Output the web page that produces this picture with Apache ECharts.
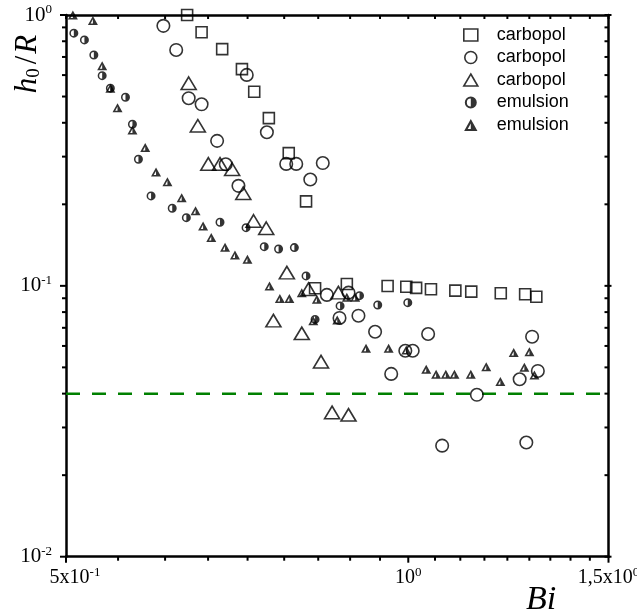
<!DOCTYPE html>
<html><head><meta charset="utf-8">
<script src="https://cdn.jsdelivr.net/npm/echarts@6/dist/echarts.min.js"></script>
<style>html,body{margin:0;padding:0;background:#fff;overflow:hidden}#c{width:637px;height:614px}</style>
</head><body><div id="c"></div>
<script>
// ---- data (Bi, h0/R) ----
const sqBi = [0.639,0.658,0.686,0.714,0.732,0.754,0.785,0.813,0.828,0.883,0.959,0.996,1.016,1.047,1.100,1.136,1.206,1.267,1.296];
const sqH  = [1.0,0.864,0.748,0.631,0.521,0.416,0.309,0.205,0.098,0.1016,0.0999,0.0993,0.0983,0.0972,0.0960,0.0952,0.0939,0.0931,0.0912];

const circBi = [0.609,0.625,0.641,0.658,0.679,0.721,0.751,0.691,0.709,0.781,0.797,0.820,0.841,0.848,0.886,0.870,0.904,0.935,0.994,1.009,1.041,0.966,1.149,1.071,1.270,1.253,1.300,1.285];
const circH  = [0.912,0.743,0.493,0.468,0.343,0.601,0.369,0.281,0.234,0.282,0.282,0.247,0.284,0.0926,0.0944,0.0761,0.0776,0.0677,0.0576,0.0576,0.0664,0.0473,0.0396,0.0257,0.0264,0.0452,0.0485,0.0649];

const triBi = [0.641,0.653,0.667,0.683,0.700,0.716,0.731,0.750,0.782,0.817,0.868,0.761,0.806,0.838,0.857,0.886];
const triH  = [0.560,0.390,0.282,0.282,0.2695,0.2198,0.1736,0.1632,0.1119,0.0972,0.0944,0.0744,0.0668,0.0525,0.0341,0.0334];

const emCircBi = [0.508,0.519,0.529,0.538,0.547,0.564,0.572,0.579,0.594,0.620,0.638,0.683,0.720,0.747,0.769,0.794,0.813,0.828,0.871,0.906,0.940,0.999];
const emCircH  = [0.857,0.809,0.712,0.597,0.537,0.497,0.395,0.2934,0.2148,0.1934,0.1786,0.1717,0.1640,0.1395,0.1368,0.1384,0.1088,0.0752,0.0843,0.0920,0.0850,0.0867];

const emTriBi = [0.507,0.528,0.538,0.547,0.555,0.572,0.587,0.600,0.614,0.632,0.650,0.660,0.671,0.690,0.704,0.722,0.755,0.771,0.786,0.806,0.831,0.825,0.866,0.883,0.898,0.918,0.961,0.996,1.037,1.058,1.079,1.098,1.135,1.171,1.205,1.238,1.278,1.265,1.291];
const emTriH  = [1.0,0.955,0.650,0.537,0.455,0.376,0.324,0.263,0.2425,0.2117,0.1895,0.1664,0.1507,0.1389,0.1301,0.1254,0.0999,0.0898,0.0898,0.0944,0.0892,0.0744,0.0748,0.0908,0.0908,0.0588,0.0588,0.0580,0.0492,0.0472,0.0472,0.0472,0.0472,0.0503,0.0443,0.0567,0.0571,0.0501,0.0469];

const seriesNames = ['carbopol','carbopol ','carbopol  ','emulsion','emulsion '];
const thresholdH = 0.04;

// axis ranges and tick values
const xRange = [0.5, 1.5];
const yRange = [0.01, 1];
const xMajorTicks = [0.5, 1.0, 1.5];
const xMinorTicks = [0.5556,0.6111,0.6667,0.7222,0.7778,0.8333,0.8889,0.9444,1.0556,1.1111,1.1667,1.2222,1.2778,1.3333,1.3889,1.4444];
const yMajorTicks = [0.01, 0.1, 1];
const yMinorTicks = [0.02,0.03,0.04,0.05,0.06,0.07,0.08,0.09,0.2,0.3,0.4,0.5,0.6,0.7,0.8,0.9];

const zip = (a, b) => a.map((v, i) => [v, b[i]]);

const SERIF = 'Liberation Serif';
const SANS = 'Liberation Sans';

const halfCircle = 'path://M10 0A10 10 0 1 1 10 20A10 10 0 1 1 10 0ZM10 3.4A6.6 6.6 0 1 0 10 16.6A6.6 6.6 0 1 0 10 3.4ZM10 3.4A6.6 6.6 0 0 1 10 16.6Z';
const halfTri = 'path://M10 0L20 18L0 18ZM10 6.8L5.4 15L14.6 15ZM10 6.8L14.6 15L10 15Z';

const hollow = {color: 'rgba(0,0,0,0)', borderColor: '#000', borderWidth: 1.6};

const chart = echarts.init(document.getElementById('c'), null, {renderer: 'canvas', width: 637, height: 614});

function xTickRender(params, api) {
  const v = api.value(0), len = api.value(2);
  const b = api.coord([v, yRange[0]]);
  const t = api.coord([v, yRange[1]]);
  const st = {stroke: '#000', lineWidth: 2};
  return {type: 'group', children: [
    {type: 'line', shape: {x1: b[0], y1: b[1], x2: b[0], y2: b[1] + len}, style: st},
    {type: 'line', shape: {x1: t[0], y1: t[1], x2: t[0], y2: t[1] + 4}, style: st}
  ]};
}
function yTickRender(params, api) {
  const v = api.value(1), len = api.value(2);
  const l = api.coord([xRange[0], v]);
  const r = api.coord([xRange[1], v]);
  const st = {stroke: '#000', lineWidth: 2};
  return {type: 'group', children: [
    {type: 'line', shape: {x1: l[0] - len, y1: l[1], x2: l[0], y2: l[1]}, style: st},
    {type: 'line', shape: {x1: r[0] - 4, y1: r[1], x2: r[0] + (len > 4 ? 3 : 0), y2: r[1]}, style: st}
  ]};
}

const richY = {
  b: {fontFamily: SERIF, fontSize: 21, lineHeight: 24, color: '#000'},
  s: {fontFamily: SERIF, fontSize: 13, lineHeight: 13, verticalAlign: 'top', color: '#000'}
};
const richX = {
  b: {fontFamily: SERIF, fontSize: 20, lineHeight: 24, color: '#000'},
  b0: {fontFamily: SERIF, fontSize: 20, lineHeight: 24, color: '#000', padding: [0, 0, 0, 18]},
  s: {fontFamily: SERIF, fontSize: 13, lineHeight: 13, verticalAlign: 'top', color: '#000'}
};

const axisLine = {show: true, onZero: false, lineStyle: {color: '#000', width: 2.5}};

const option = {
  animation: false,
  backgroundColor: '#fff',
  grid: {left: 66, right: 28.5, top: 15, bottom: 57.3, containLabel: false, outerBoundsMode: 'none'},
  xAxis: [
    {type: 'log', logBase: 10, min: xRange[0], max: xRange[1], position: 'bottom',
     axisLine: axisLine, axisTick: {show: false}, splitLine: {show: false}, minorTick: {show: false},
     axisLabel: {margin: 9, rich: richX, showMinLabel: true, showMaxLabel: true,
       formatter: function (v) {
         if (Math.abs(v - 0.5) < 1e-6) return '{b0|5x10}{s|-1}';
         if (Math.abs(v - 1) < 1e-6) return '{b|10}{s|0}';
         if (Math.abs(v - 1.5) < 1e-6) return '{b|1,5x10}{s|0}';
         return '';
       }}},
    {type: 'log', logBase: 10, min: xRange[0], max: xRange[1], position: 'top',
     axisLine: axisLine, axisTick: {show: false}, axisLabel: {show: false}, splitLine: {show: false}}
  ],
  yAxis: [
    {type: 'log', logBase: 10, min: yRange[0], max: yRange[1], position: 'left',
     axisLine: axisLine, axisTick: {show: false}, splitLine: {show: false}, minorTick: {show: false},
     axisLabel: {margin: 14, rich: richY, showMinLabel: true, showMaxLabel: true,
       formatter: function (v) {
         const e = Math.round(Math.log10(v));
         if (Math.abs(Math.pow(10, e) - v) / v > 1e-6) return '';
         return '{b|10}{s|' + e + '}';
       }}},
    {type: 'log', logBase: 10, min: yRange[0], max: yRange[1], position: 'right',
     axisLine: axisLine, axisTick: {show: false}, axisLabel: {show: false}, splitLine: {show: false}}
  ],
  legend: {
    orient: 'vertical', left: 458, top: 21, itemWidth: 14, itemHeight: 12, itemGap: 4.5,
    selectedMode: false,
    textStyle: {fontFamily: SANS, fontSize: 18, lineHeight: 18, color: '#000', padding: [0, 0, 0, 14]},
    data: [
      {name: seriesNames[0], icon: 'rect', itemStyle: hollow},
      {name: seriesNames[1], icon: 'circle', itemStyle: hollow},
      {name: seriesNames[2], icon: 'triangle', itemStyle: hollow},
      {name: seriesNames[3], icon: halfCircle, itemStyle: {color: '#000', borderWidth: 0}},
      {name: seriesNames[4], icon: halfTri, itemStyle: {color: '#000', borderWidth: 0}}
    ],
    formatter: function (n) { return n.trim(); }
  },
  graphic: [
    {type: 'text', x: 28, y: 64, rotation: Math.PI / 2, silent: true,
     style: {text: '{i|h}{sub|0}{n|/}{i|R}', align: 'center', verticalAlign: 'middle',
       rich: {
         i: {fontFamily: SERIF, fontStyle: 'italic', fontSize: 31, lineHeight: 32, fill: '#000', color: '#000'},
         n: {fontFamily: SERIF, fontSize: 31, lineHeight: 32, fill: '#000', color: '#000', padding: [0, 2, 0, 4]},
         sub: {fontFamily: SERIF, fontSize: 19, lineHeight: 19, verticalAlign: 'bottom', fill: '#000', color: '#000'}
       }}},
    {type: 'text', x: 526, y: 600, silent: true,
     style: {text: 'Bi', fontFamily: SERIF, fontStyle: 'italic', fontSize: 34, fill: '#000', align: 'left', verticalAlign: 'middle'}}
  ],
  series: [
    {type: 'line', name: 'threshold', data: xRange.map(x => [x, thresholdH]), showSymbol: false, silent: true,
     lineStyle: {color: '#008000', width: 2.5, type: [14, 12]}, z: 1},
    {type: 'scatter', name: seriesNames[0], data: zip(sqBi, sqH), symbol: 'rect', symbolSize: 11, itemStyle: hollow, z: 3},
    {type: 'scatter', name: seriesNames[1], data: zip(circBi, circH), symbol: 'circle', symbolSize: 12.5, itemStyle: hollow, z: 3},
    {type: 'scatter', name: seriesNames[2], data: zip(triBi, triH), symbol: 'triangle', symbolSize: [15, 12.5], itemStyle: hollow, z: 3},
    {type: 'scatter', name: seriesNames[3], data: zip(emCircBi, emCircH), symbol: halfCircle, symbolSize: 9, itemStyle: {color: '#000'}, z: 4},
    {type: 'scatter', name: seriesNames[4], data: zip(emTriBi, emTriH), symbol: halfTri, symbolSize: [10, 9], itemStyle: {color: '#000'}, z: 4},
    {type: 'custom', name: 'xticks', silent: true, renderItem: xTickRender, encode: {x: 0, y: 1}, z: 10,
     data: xMajorTicks.map(v => [v, yRange[0], 6]).concat(xMinorTicks.map(v => [v, yRange[0], 4]))},
    {type: 'custom', name: 'yticks', silent: true, renderItem: yTickRender, encode: {x: 0, y: 1}, z: 10,
     data: yMajorTicks.map(v => [xRange[0], v, 6]).concat(yMinorTicks.map(v => [xRange[0], v, 4]))}
  ]
};
chart.setOption(option);
</script>
</body></html>
